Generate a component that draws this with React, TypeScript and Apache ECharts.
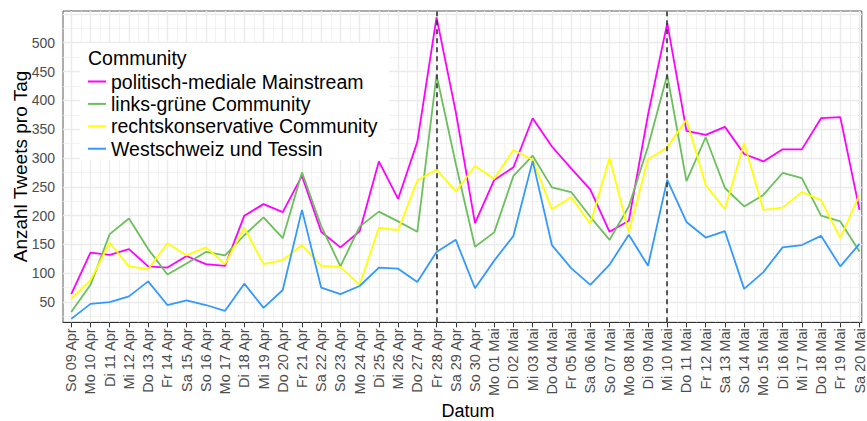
import React, { useEffect, useRef } from 'react';
import * as echarts from 'echarts';

const categories = [
  'So 09 Apr', 'Mo 10 Apr', 'Di 11 Apr', 'Mi 12 Apr', 'Do 13 Apr', 'Fr 14 Apr', 'Sa 15 Apr',
  'So 16 Apr', 'Mo 17 Apr', 'Di 18 Apr', 'Mi 19 Apr', 'Do 20 Apr', 'Fr 21 Apr', 'Sa 22 Apr',
  'So 23 Apr', 'Mo 24 Apr', 'Di 25 Apr', 'Mi 26 Apr', 'Do 27 Apr', 'Fr 28 Apr', 'Sa 29 Apr',
  'So 30 Apr', 'Mo 01 Mai', 'Di 02 Mai', 'Mi 03 Mai', 'Do 04 Mai', 'Fr 05 Mai', 'Sa 06 Mai',
  'So 07 Mai', 'Mo 08 Mai', 'Di 09 Mai', 'Mi 10 Mai', 'Do 11 Mai', 'Fr 12 Mai', 'Sa 13 Mai',
  'So 14 Mai', 'Mo 15 Mai', 'Di 16 Mai', 'Mi 17 Mai', 'Do 18 Mai', 'Fr 19 Mai', 'Sa 20 Mai',
];

const mainstream = [
  64, 136, 132, 142, 112, 110, 130, 116, 113, 200, 220, 206, 269, 172,
  145, 173, 294, 229, 328, 544, 380, 187, 262, 284, 369, 320, 282, 245,
  172, 191, 375, 534, 347, 340, 354, 307, 294, 315, 315, 369, 371, 210,
];
const linksGruen = [
  33, 80, 168, 195, 142, 98, 117, 137, 131, 166, 197, 161, 275, 182,
  112, 181, 207, 190, 172, 444, 290, 146, 171, 269, 304, 249, 241, 198,
  158, 216, 320, 444, 260, 336, 248, 216, 236, 274, 265, 200, 190, 138,
];
const rechtskonservativ = [
  56, 88, 153, 112, 107, 152, 131, 145, 116, 179, 116, 123, 149, 113,
  111, 80, 179, 175, 261, 280, 242, 286, 264, 314, 297, 211, 232, 186,
  300, 171, 298, 318, 367, 253, 211, 326, 210, 214, 241, 227, 161, 236,
];
const westschweiz = [
  21, 47, 50, 60, 86, 45, 53, 45, 35, 82, 40, 71, 210, 75,
  64, 78, 110, 108, 85, 137, 158, 74, 122, 165, 295, 149, 109, 80,
  115, 167, 113, 262, 189, 162, 173, 73, 102, 145, 149, 165, 112, 151,
];

const seriesNames = [
  'politisch-mediale Mainstream',
  'links-grüne Community',
  'rechtskonservative Community',
  'Westschweiz und Tessin',
];
const seriesColors = ['#FF00FF', '#6CBF5C', '#FFFF00', '#3399FF'];
const seriesValues = [mainstream, linksGruen, rechtskonservativ, westschweiz];

const eventDays = ['Fr 28 Apr', 'Mi 10 Mai'];

const yTickLabels = [50, 100, 150, 200, 250, 300, 350, 400, 450, 500];
const yGridMajor = [50, 100, 150, 200, 250, 300, 350, 400, 450, 500, 550];
const yGridMinor = [25, 75, 125, 175, 225, 275, 325, 375, 425, 475, 525];

const FONT = '"Liberation Sans", Arial, sans-serif';

export default function App() {
  const ref = useRef<HTMLDivElement>(null);

  useEffect(() => {
    const chart = echarts.init(ref.current as HTMLDivElement, null, { renderer: 'svg' });
    const idx = categories.map((_, i) => i);
    const xMinor = idx.slice(0, -1).map((i) => i + 0.5);

    const major = { color: '#EBEBEB', width: 1.4, type: 'solid' };
    const minor = { color: '#EFEFEF', width: 0.8, type: 'solid' };

    const gridLines = [
      ...yGridMinor.map((v) => ({ yAxis: v, lineStyle: minor })),
      ...xMinor.map((v) => ({ xAxis: v, lineStyle: minor })),
      ...yGridMajor.map((v) => ({ yAxis: v, lineStyle: major })),
      ...idx.map((v) => ({ xAxis: v, lineStyle: major })),
    ];

    const dataSeries = seriesNames.map((name, s) => ({
      type: 'line',
      name,
      data: seriesValues[s].map((v, i) => [i, v]),
      symbol: 'none',
      lineStyle: { color: seriesColors[s], width: 1.8 },
      itemStyle: { color: seriesColors[s] },
      z: 2,
    }));

    chart.setOption({
      animation: false,
      textStyle: { fontFamily: FONT },
      grid: {
        left: 63,
        right: 0,
        top: 11,
        bottom: 98.7,
        show: true,
        borderColor: '#5a5a5a',
        borderWidth: 1,
        backgroundColor: '#fff',
      },
      xAxis: {
        type: 'value',
        min: -0.43,
        max: 41.12,
        splitLine: { show: false },
        axisLine: { show: true, onZero: false, lineStyle: { color: '#333', width: 1 } },
        axisTick: { show: true, length: 5, customValues: idx, lineStyle: { color: '#333' } },
        axisLabel: {
          customValues: idx,
          formatter: (v: number) => categories[Math.round(v)] ?? '',
          rotate: 90,
          fontSize: 14.5,
          color: '#4D4D4D',
          margin: 6,
          fontFamily: FONT,
        },
      },
      yAxis: {
        type: 'value',
        min: 15,
        max: 555,
        splitLine: { show: false },
        axisLine: { show: true, lineStyle: { color: '#5a5a5a', width: 1 } },
        axisTick: { show: true, length: 5, customValues: yTickLabels, lineStyle: { color: '#333' } },
        axisLabel: {
          customValues: yTickLabels,
          fontSize: 14,
          color: '#4D4D4D',
          margin: 8,
          fontFamily: FONT,
        },
      },
      legend: {
        data: seriesNames,
        orient: 'vertical',
        left: 88,
        top: 71.5,
        padding: 0,
        itemWidth: 18,
        itemHeight: 2,
        itemGap: 2.4,
        icon: 'rect',
        selectedMode: false,
        textStyle: { fontSize: 19.5, color: '#000', lineHeight: 19, fontFamily: FONT },
        z: 6,
      },
      graphic: [
        {
          type: 'rect',
          z: 4,
          shape: { x: 80, y: 43, width: 309, height: 117 },
          style: { fill: '#fff' },
        },
        {
          type: 'text',
          z: 6,
          x: 88,
          y: 58.3,
          style: {
            text: 'Community',
            fontSize: 19.5,
            fill: '#000',
            fontFamily: FONT,
            verticalAlign: 'middle',
          },
        },
        {
          type: 'text',
          z: 6,
          x: 20,
          y: 166.5,
          rotation: Math.PI / 2,
          style: {
            text: 'Anzahl Tweets pro Tag',
            fontSize: 19,
            fill: '#000',
            fontFamily: FONT,
            align: 'center',
            verticalAlign: 'middle',
          },
        },
        {
          type: 'text',
          z: 6,
          x: 468,
          y: 411,
          style: {
            text: 'Datum',
            fontSize: 18,
            fill: '#000',
            fontFamily: FONT,
            align: 'center',
            verticalAlign: 'middle',
          },
        },
      ],
      series: [
        {
          type: 'line',
          name: 'grid',
          data: [],
          silent: true,
          z: 1,
          markLine: {
            silent: true,
            z: 1,
            symbol: ['none', 'none'],
            label: { show: false },
            emphasis: { disabled: true },
            data: gridLines,
          },
        },
        ...dataSeries,
        {
          type: 'line',
          name: 'events',
          data: [],
          silent: true,
          z: 3,
          markLine: {
            silent: true,
            z: 3,
            symbol: ['none', 'none'],
            label: { show: false },
            emphasis: { disabled: true },
            lineStyle: { color: '#333', width: 1.6, type: [5, 4] },
            data: eventDays.map((d) => ({ xAxis: categories.indexOf(d) })),
          },
        },
      ],
    });

    return () => chart.dispose();
  }, []);

  return (
    <div
      ref={ref}
      style={{ position: 'absolute', left: 0, top: 0, width: 867, height: 421 }}
    />
  );
}
